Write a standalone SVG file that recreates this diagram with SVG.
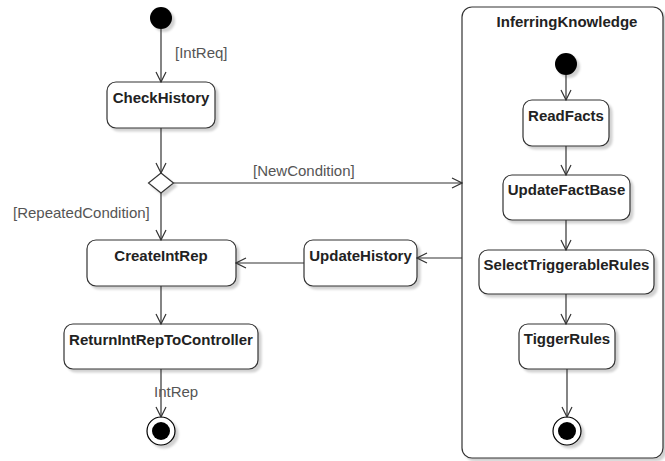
<svg xmlns="http://www.w3.org/2000/svg" width="665" height="461" viewBox="0 0 665 461">
  <defs>
    <filter id="shadow" x="-20%" y="-20%" width="140%" height="160%">
      <feDropShadow dx="3" dy="3" stdDeviation="1.2" flood-color="#000" flood-opacity="0.18"/>
    </filter>
    <marker id="open" viewBox="0 0 12 12" refX="11" refY="6" markerWidth="12" markerHeight="12" markerUnits="userSpaceOnUse" orient="auto">
      <path d="M1,1 L11,6 L1,11" fill="none" stroke="#333" stroke-width="1.2"/>
    </marker>
  </defs>
  <style>
    .act { fill: #fff; stroke: #333; stroke-width: 1.2; filter: url(#shadow); }
    .name { font-family: "Liberation Sans", Arial, sans-serif; font-size: 15px; font-weight: bold; fill: #222; text-anchor: middle; }
    .lbl { font-family: "Liberation Sans", Arial, sans-serif; font-size: 15px; fill: #555; }
    .edge { fill: none; stroke: #333; stroke-width: 1.2; marker-end: url(#open); }
    .start { fill: #000; filter: url(#shadow); }
  </style>

  <!-- composite state -->
  <g id="InferringKnowledge">
    <rect class="act" x="462" y="7" width="201" height="451" rx="10"/>
    <text class="name" x="567" y="27">InferringKnowledge</text>
  </g>

  <g id="start"><circle class="start" cx="161" cy="18" r="11"/></g>

  <g id="CheckHistory">
    <rect class="act" x="107" y="82" width="108" height="46" rx="9"/>
    <text class="name" x="161" y="102.5">CheckHistory</text>
  </g>

  <g id="decision">
    <path class="act" d="M161,173 L173.5,183 L161,193 L148.5,183 Z"/>
  </g>

  <g id="CreateIntRep">
    <rect class="act" x="87" y="240" width="149" height="46" rx="9"/>
    <text class="name" x="161" y="260.5">CreateIntRep</text>
  </g>

  <g id="ReturnIntRepToController">
    <rect class="act" x="64" y="324" width="194" height="45" rx="9"/>
    <text class="name" x="161" y="344.5">ReturnIntRepToController</text>
  </g>

  <g id="UpdateHistory">
    <rect class="act" x="304" y="240" width="113" height="46" rx="9"/>
    <text class="name" x="360.5" y="260.5">UpdateHistory</text>
  </g>

  <g id="end">
    <circle cx="161" cy="431" r="14" fill="#fff" stroke="#000" stroke-width="1.2" filter="url(#shadow)"/>
    <circle cx="161" cy="431" r="9" fill="#000"/>
  </g>

  <g id="innerStart"><circle class="start" cx="566" cy="64" r="11"/></g>

  <g id="ReadFacts">
    <rect class="act" x="523" y="100" width="86" height="46" rx="9"/>
    <text class="name" x="566" y="120.5">ReadFacts</text>
  </g>

  <g id="UpdateFactBase">
    <rect class="act" x="503" y="175" width="127" height="45" rx="9"/>
    <text class="name" x="566.5" y="194.5">UpdateFactBase</text>
  </g>

  <g id="SelectTriggerableRules">
    <rect class="act" x="479" y="250" width="175" height="44" rx="9"/>
    <text class="name" x="566.5" y="269.5">SelectTriggerableRules</text>
  </g>

  <g id="TiggerRules">
    <rect class="act" x="519" y="324" width="96" height="45" rx="9"/>
    <text class="name" x="567" y="343.5">TiggerRules</text>
  </g>

  <g id="innerEnd">
    <circle cx="567" cy="431" r="14" fill="#fff" stroke="#000" stroke-width="1.2" filter="url(#shadow)"/>
    <circle cx="567" cy="431" r="9" fill="#000"/>
  </g>

  <!-- transitions -->
  <g id="connectors">
    <path class="edge" d="M161,29 L161,82"/>
    <path class="edge" d="M161,128 L161,173"/>
    <path class="edge" d="M173.5,183 L462,183"/>
    <path class="edge" d="M161,193 L161,240"/>
    <path class="edge" d="M161,286 L161,324"/>
    <path class="edge" d="M161,369 L161,417"/>
    <path class="edge" d="M304,263 L236,263"/>
    <path class="edge" d="M462,258 L417,258"/>
    <path class="edge" d="M566,75 L566,100"/>
    <path class="edge" d="M566,146 L566,175"/>
    <path class="edge" d="M566,220 L566,250"/>
    <path class="edge" d="M566,294 L566,324"/>
    <path class="edge" d="M567,369 L567,417"/>
    <text class="lbl" x="175" y="58">[IntReq]</text>
    <text class="lbl" x="253" y="176">[NewCondition]</text>
    <text class="lbl" x="13" y="218">[RepeatedCondition]</text>
    <text class="lbl" x="154" y="397">IntRep</text>
  </g>
</svg>
